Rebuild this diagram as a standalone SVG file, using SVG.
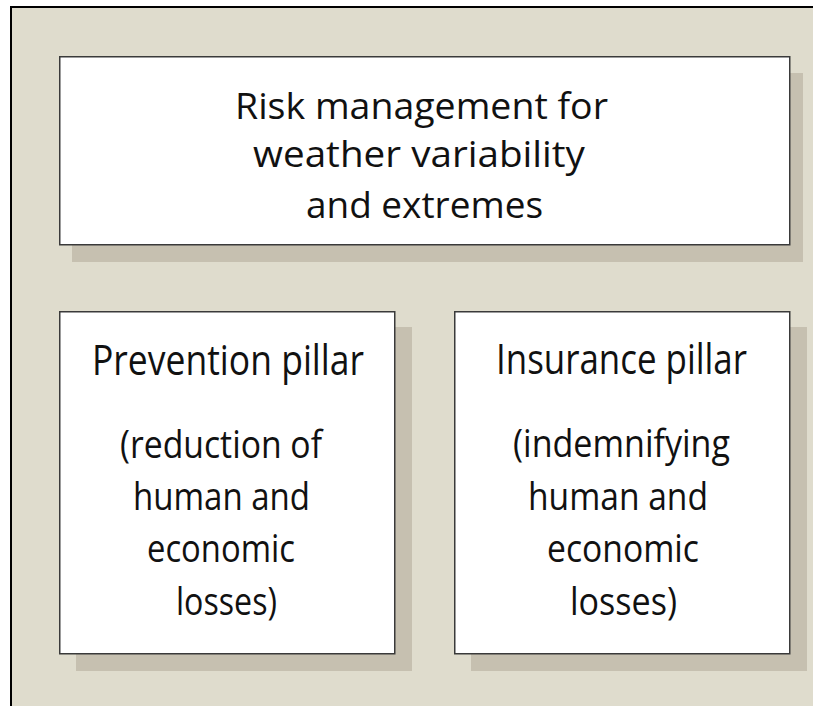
<svg xmlns="http://www.w3.org/2000/svg" width="813" height="706" viewBox="0 0 813 706">
  <style>
    .panel { fill: #dfdccd; }
    .frame { stroke: #000000; stroke-width: 2; fill: none; }
    .shadow { fill: #c6c0b0; }
    .box { fill: #ffffff; stroke: #3a3a3a; stroke-width: 1.5; }
    .t { font-family: "Open Sans", "Noto Sans", "DejaVu Sans", sans-serif; fill: #111111; }
    .title { font-size: 36px; }
    .head { font-size: 42px; }
    .body { font-size: 38px; }
  </style>

  <!-- background panel with its top and left rule -->
  <rect class="panel" x="11" y="7" width="802" height="699"/>
  <path class="frame" d="M10,7 H813 M11,6 V706"/>

  <!-- top box: overall theme -->
  <g id="risk-management">
    <rect class="shadow" x="72" y="73" width="731" height="189"/>
    <rect class="box" x="59.75" y="56.75" width="730" height="188"/>
    <text class="t title" x="235" y="119" textLength="373" lengthAdjust="spacingAndGlyphs">Risk management for</text>
    <text class="t title" x="253" y="167" textLength="332" lengthAdjust="spacingAndGlyphs">weather variability</text>
    <text class="t title" x="306" y="218" textLength="237" lengthAdjust="spacingAndGlyphs">and extremes</text>
  </g>

  <!-- left pillar -->
  <g id="prevention-pillar">
    <rect class="shadow" x="76" y="327" width="336" height="344"/>
    <rect class="box" x="59.75" y="311.75" width="335" height="342"/>
    <text class="t head" x="92" y="375" textLength="272" lengthAdjust="spacingAndGlyphs">Prevention pillar</text>
    <text class="t body" x="120" y="458" textLength="202" lengthAdjust="spacingAndGlyphs">(reduction of</text>
    <text class="t body" x="133" y="510" textLength="177" lengthAdjust="spacingAndGlyphs">human and</text>
    <text class="t body" x="147" y="562" textLength="148" lengthAdjust="spacingAndGlyphs">economic</text>
    <text class="t body" x="176" y="615" textLength="101" lengthAdjust="spacingAndGlyphs">losses)</text>
  </g>

  <!-- right pillar -->
  <g id="insurance-pillar">
    <rect class="shadow" x="471" y="327" width="336" height="344"/>
    <rect class="box" x="454.75" y="311.75" width="335" height="342"/>
    <text class="t head" x="496" y="374" textLength="251" lengthAdjust="spacingAndGlyphs">Insurance pillar</text>
    <text class="t body" x="513" y="457" textLength="217" lengthAdjust="spacingAndGlyphs">(indemnifying</text>
    <text class="t body" x="528" y="510" textLength="180" lengthAdjust="spacingAndGlyphs">human and</text>
    <text class="t body" x="547" y="562" textLength="152" lengthAdjust="spacingAndGlyphs">economic</text>
    <text class="t body" x="570" y="615" textLength="107" lengthAdjust="spacingAndGlyphs">losses)</text>
  </g>

  <!-- no connectors are drawn between the boxes -->
  <g id="connectors"/>
</svg>
